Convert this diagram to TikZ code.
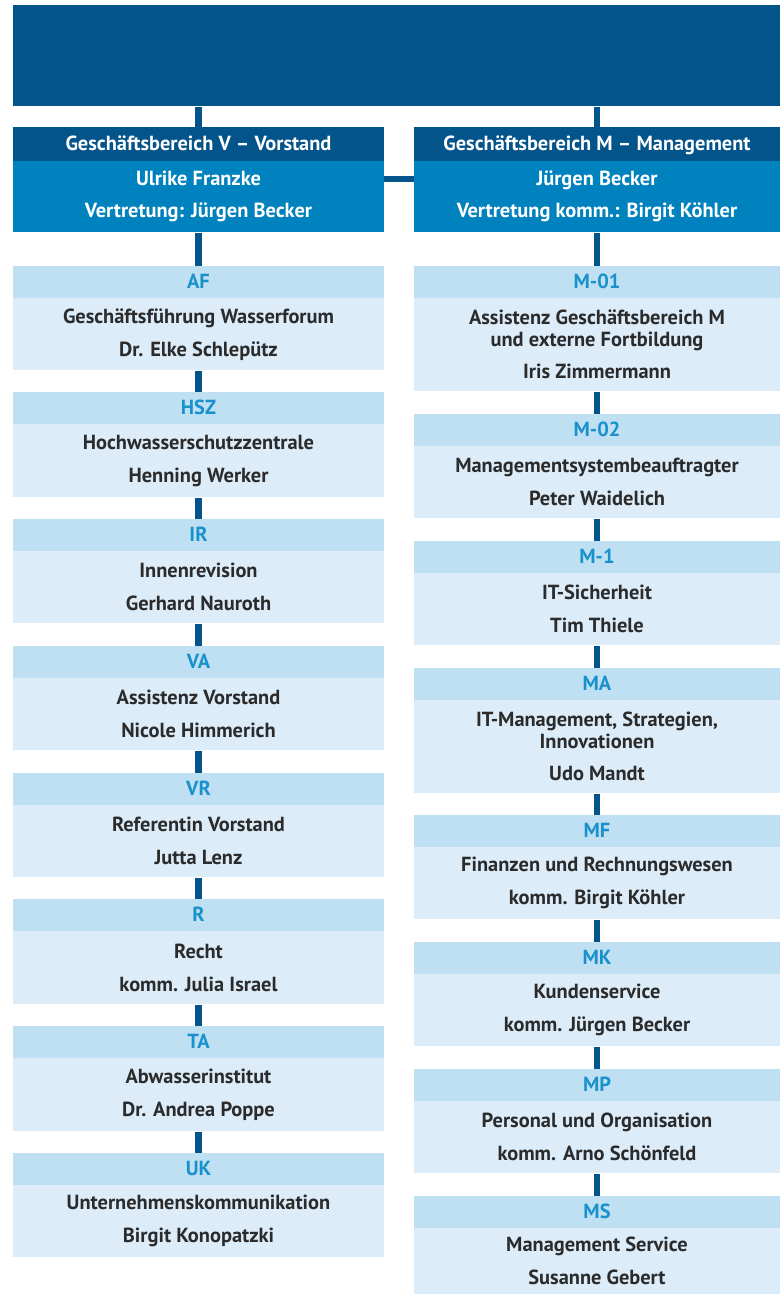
\documentclass[tikz,border=0pt]{standalone}
\usepackage{fontspec}
\setmainfont{PT Sans}
\definecolor{navy}{HTML}{04548C}
\definecolor{midblue}{HTML}{0082BE}
\definecolor{codefill}{HTML}{BEE0F2}
\definecolor{bodyfill}{HTML}{DCECF8}
\definecolor{codetext}{HTML}{1991CD}
\definecolor{bodytext}{HTML}{2B2B2B}
\newcommand{\txtfont}{\fontsize{15.3}{16.5}\selectfont\bfseries}
\tikzset{
  codebox/.style={fill=codefill, text=codetext, anchor=north, inner sep=0pt, minimum height=24pt, text height=2.2ex, text depth=0.4ex, font=\txtfont},
  bodybox/.style={fill=bodyfill, text=bodytext, anchor=north, inner sep=0pt, align=center, font=\txtfont},
  titlebox/.style={fill=navy, text=white, anchor=north, inner sep=0pt, minimum height=25.5pt, text height=2.2ex, text depth=0.4ex, font=\txtfont},
  headbox/.style={fill=midblue, text=white, anchor=north, inner sep=0pt, align=center, minimum height=53.25pt, font=\txtfont},
  conn/.style={draw=navy, line width=5pt},
  hconn/.style={draw=navy, line width=4.5pt}
}
% #1 name, #2 x centre, #3 top y, #4 width px, #5 code, #6 body height px, #7 body text
\newcommand{\orgunit}[7]{%
  \node[codebox, minimum width=#4*0.75pt] (#1c) at (#2,#3) {#5};
  \node[bodybox, minimum width=#4*0.75pt, minimum height=#6*0.75pt] (#1) at (#2,#3+32) {#7};
}
\begin{document}
\begin{tikzpicture}[x=0.75pt,y=-0.75pt]
\useasboundingbox (0,0) rectangle (780,1294);
% banner
\node[fill=navy, anchor=north west, inner sep=0pt, minimum width=767*0.75pt, minimum height=101*0.75pt] (banner) at (13,5) {};
% headers
\node[titlebox, minimum width=371*0.75pt] (vtitle) at (198.5,127) {Geschäftsbereich V – Vorstand};
\node[headbox, minimum width=371*0.75pt] (vhead) at (198.5,161) {Ulrike Franzke\\[7.5pt]Vertretung: Jürgen Becker};
\node[titlebox, minimum width=366*0.75pt] (mtitle) at (597,127) {Geschäftsbereich M – Management};
\node[headbox, minimum width=366*0.75pt] (mhead) at (597,161) {Jürgen Becker\\[7.5pt]Vertretung komm.: Birgit Köhler};
% left column
\orgunit{af}{198.5}{266}{371}{AF}{72}{Geschäftsführung Wasserforum\\[8.25pt]Dr. Elke Schlepütz}
\orgunit{hsz}{198.5}{392}{371}{HSZ}{73}{Hochwasserschutzzentrale\\[8.25pt]Henning Werker}
\orgunit{ir}{198.5}{519}{371}{IR}{72}{Innenrevision\\[8.25pt]Gerhard Nauroth}
\orgunit{va}{198.5}{646}{371}{VA}{72}{Assistenz Vorstand\\[8.25pt]Nicole Himmerich}
\orgunit{vr}{198.5}{773}{371}{VR}{72}{Referentin Vorstand\\[8.25pt]Jutta Lenz}
\orgunit{r}{198.5}{899}{371}{R}{73}{Recht\\[8.25pt]komm. Julia Israel}
\orgunit{ta}{198.5}{1026}{371}{TA}{73}{Abwasserinstitut\\[8.25pt]Dr. Andrea Poppe}
\orgunit{uk}{198.5}{1153}{371}{UK}{72}{Unternehmenskommunikation\\[8.25pt]Birgit Konopatzki}
% right column
\orgunit{m01}{597}{266}{366}{M-01}{93}{Assistenz Geschäftsbereich M\\und externe Fortbildung\\[7.5pt]Iris Zimmermann}
\orgunit{m02}{597}{414}{366}{M-02}{72}{Managementsystembeauftragter\\[8.25pt]Peter Waidelich}
\orgunit{m1}{597}{541}{366}{M-1}{72}{IT-Sicherheit\\[8.25pt]Tim Thiele}
\orgunit{ma}{597}{668}{366}{MA}{93}{IT-Management, Strategien,\\Innovationen\\[7.5pt]Udo Mandt}
\orgunit{mf}{597}{815}{366}{MF}{72}{Finanzen und Rechnungswesen\\[8.25pt]komm. Birgit Köhler}
\orgunit{mk}{597}{942}{366}{MK}{72}{Kundenservice\\[8.25pt]komm. Jürgen Becker}
\orgunit{mp}{597}{1069}{366}{MP}{72}{Personal und Organisation\\[8.25pt]komm. Arno Schönfeld}
\orgunit{ms}{597}{1196}{366}{MS}{66}{Management Service\\[8.25pt]Susanne Gebert}
% connectors
\draw[conn] (vtitle.north |- banner.south) -- (vtitle.north);
\draw[conn] (mtitle.north |- banner.south) -- (mtitle.north);
\draw[hconn] ([yshift=13pt]vhead.east) -- ([yshift=13pt]mhead.west);
\draw[conn] (vhead.south) -- (afc.north);
\draw[conn] (af.south) -- (hszc.north);
\draw[conn] (hsz.south) -- (irc.north);
\draw[conn] (ir.south) -- (vac.north);
\draw[conn] (va.south) -- (vrc.north);
\draw[conn] (vr.south) -- (rc.north);
\draw[conn] (r.south) -- (tac.north);
\draw[conn] (ta.south) -- (ukc.north);
\draw[conn] (mhead.south) -- (m01c.north);
\draw[conn] (m01.south) -- (m02c.north);
\draw[conn] (m02.south) -- (m1c.north);
\draw[conn] (m1.south) -- (mac.north);
\draw[conn] (ma.south) -- (mfc.north);
\draw[conn] (mf.south) -- (mkc.north);
\draw[conn] (mk.south) -- (mpc.north);
\draw[conn] (mp.south) -- (msc.north);
\end{tikzpicture}
\end{document}
